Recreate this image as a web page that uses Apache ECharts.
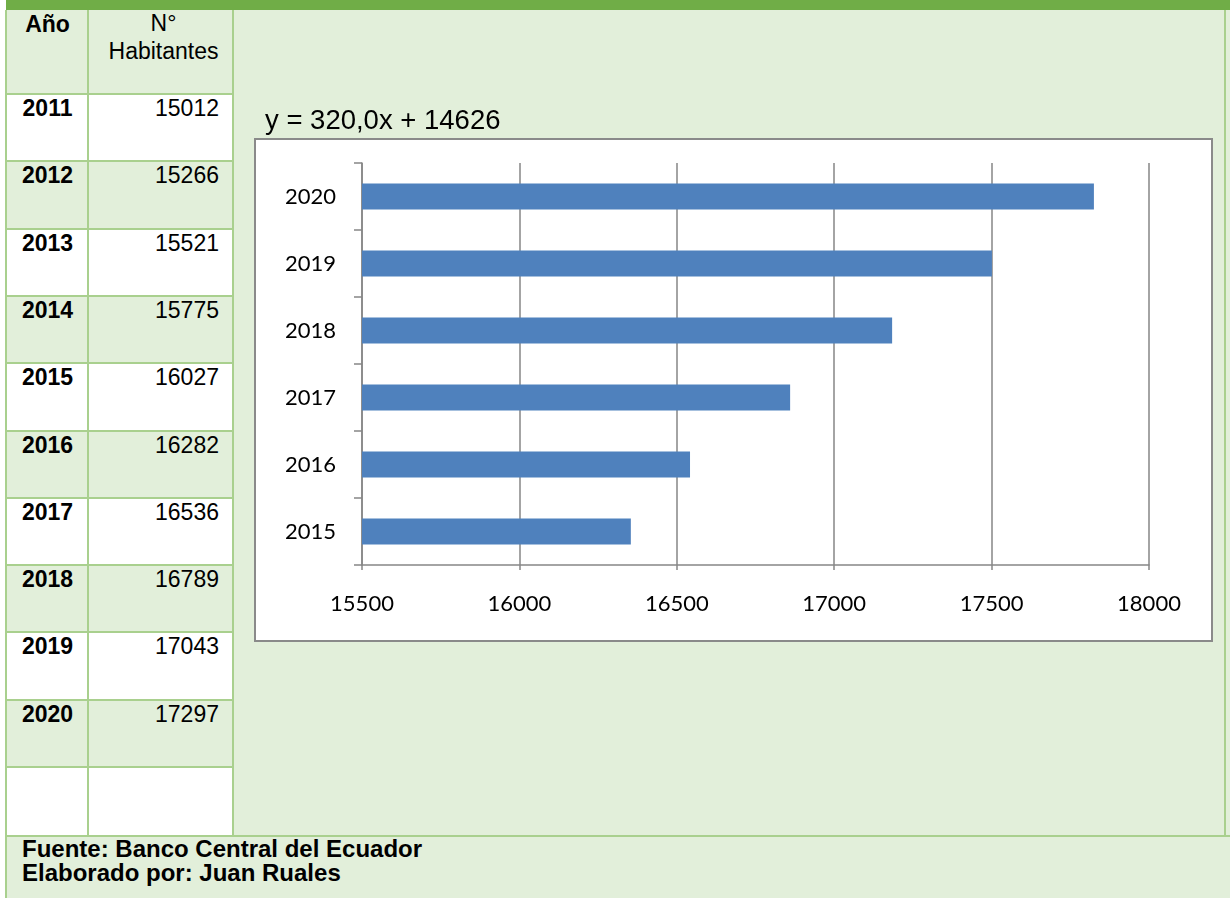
<!DOCTYPE html>
<html><head><meta charset="utf-8">
<script src="https://cdn.jsdelivr.net/npm/echarts@6/dist/echarts.min.js"></script>
<style>
html,body{margin:0;padding:0;width:1230px;height:898px;overflow:hidden;background:#fff;font-family:"Liberation Sans",Arial,sans-serif;}
#page{position:absolute;left:0;top:0;width:1230px;height:898px;}
.abs{position:absolute;box-sizing:border-box;}
.txt{position:absolute;white-space:nowrap;font-size:23px;line-height:25px;color:#000;}
#chart{position:absolute;left:0;top:0;width:1230px;height:898px;}
</style></head><body>
<div id="page"></div>
<div id="chart"></div>
<script>
// ---- data ----
const headerYear = 'Año';
const headerHab = ['N°', 'Habitantes'];
const tableYears = ['2011','2012','2013','2014','2015','2016','2017','2018','2019','2020'];
const tableHabitantes = [15012, 15266, 15521, 15775, 16027, 16282, 16536, 16789, 17043, 17297];
const chartYears = ['2015','2016','2017','2018','2019','2020'];
const chartValues = [16354, 16542, 16860, 17184, 17501, 17825];
const xMin = 15500, xMax = 18000, xStep = 500;
const equation = 'y = 320,0x + 14626';
const footerLines = ['Fuente: Banco Central del Ecuador', 'Elaborado por: Juan Ruales'];

// ---- table (HTML) ----
const GREEN = '#E2EFDA', LINE = '#A9D08E', DARK = '#70AD47';
const page = document.getElementById('page');
function box(l, t, w, h, bg) {
  const d = document.createElement('div');
  d.className = 'abs';
  d.style.cssText = `left:${l}px;top:${t}px;width:${w}px;height:${h}px;background:${bg};`;
  page.appendChild(d); return d;
}
function text(str, l, t, w, align, bold, size) {
  const d = document.createElement('div');
  d.className = 'txt';
  d.textContent = str;
  d.style.left = l + 'px'; d.style.top = t + 'px';
  if (w) { d.style.width = w + 'px'; d.style.textAlign = align; }
  if (bold) d.style.fontWeight = 'bold';
  if (size) { d.style.fontSize = size + 'px'; d.style.lineHeight = size + 'px'; }
  page.appendChild(d); return d;
}
box(6, 0, 1224, 10, DARK);
box(6, 10, 1224, 888, GREEN);
const c1L = 7, c1R = 88, c2R = 233;
const rowTops = [10, 94];
for (let i = 1; i <= tableYears.length; i++) rowTops.push(94 + 67.3 * i);
rowTops.push(836);
for (let r = 0; r < rowTops.length - 1; r++) {
  const isWhite = (r % 2 === 1);
  box(c1L, rowTops[r], c2R - c1L, rowTops[r + 1] - rowTops[r], isWhite ? '#fff' : GREEN);
}
box(5, 10, 2, 888, LINE);
box(87, 10, 2, 826, LINE);
box(232, 10, 2, 826, LINE);
box(1224, 10, 2, 826, LINE);
for (let r = 1; r < rowTops.length - 1; r++) box(5, rowTops[r] - 1, 229, 2, LINE);
box(5, 835, 1225, 2, LINE);
text(headerYear, c1L, 12, c1R - c1L, 'center', true);
text(headerHab[0], 94, 11, c2R - 94, 'center', false);
text(headerHab[1], 94, 39, c2R - 94, 'center', false);
for (let i = 0; i < tableYears.length; i++) {
  const t = rowTops[i + 1] + 2;
  text(tableYears[i], c1L, t, c1R - c1L, 'center', true);
  text(String(tableHabitantes[i]), 92, t, 219 - 92, 'right', false);
}
text(footerLines[0], 22, 837, 0, null, true, 24);
text(footerLines[1], 22, 861, 0, null, true, 24);

// ---- chart (ECharts) ----
const chart = echarts.init(document.getElementById('chart'), null, {renderer: 'canvas'});
const AX = '#868686';
chart.setOption({
  backgroundColor: 'transparent',
  animation: false,
  graphic: [
    {type: 'rect', z: -10, silent: true, shape: {x: 255, y: 139, width: 957, height: 502},
     style: {fill: '#fff', stroke: '#8a8a8a', lineWidth: 2}},
    {type: 'text', left: 265, top: 107, silent: true,
     style: {text: equation, fontSize: 27.5, fontFamily: '"Liberation Sans", Arial', fill: '#000'}}
  ],
  grid: {left: 362, right: 81, top: 163, bottom: 333, containLabel: false},
  xAxis: {
    type: 'value', min: xMin, max: xMax, interval: xStep,
    axisLine: {show: true, lineStyle: {color: AX, width: 1.5}},
    axisTick: {show: true, length: 5, lineStyle: {color: AX, width: 1.5}},
    splitLine: {show: true, lineStyle: {color: AX, width: 1.5}},
    axisLabel: {fontSize: 22, fontFamily: 'Lato', color: '#000', margin: 28,
      showMinLabel: true, showMaxLabel: true, formatter: v => String(v)}
  },
  yAxis: {
    type: 'category', data: chartYears,
    axisLine: {show: true, lineStyle: {color: AX, width: 1.5}},
    axisTick: {show: true, length: 8, lineStyle: {color: AX, width: 1.5}},
    splitLine: {show: false},
    axisLabel: {fontSize: 22, fontFamily: 'Lato', color: '#000', margin: 26}
  },
  series: [{
    type: 'bar', data: chartValues, barWidth: 26,
    itemStyle: {color: '#4F81BD'}
  }]
});
</script>
</body></html>
